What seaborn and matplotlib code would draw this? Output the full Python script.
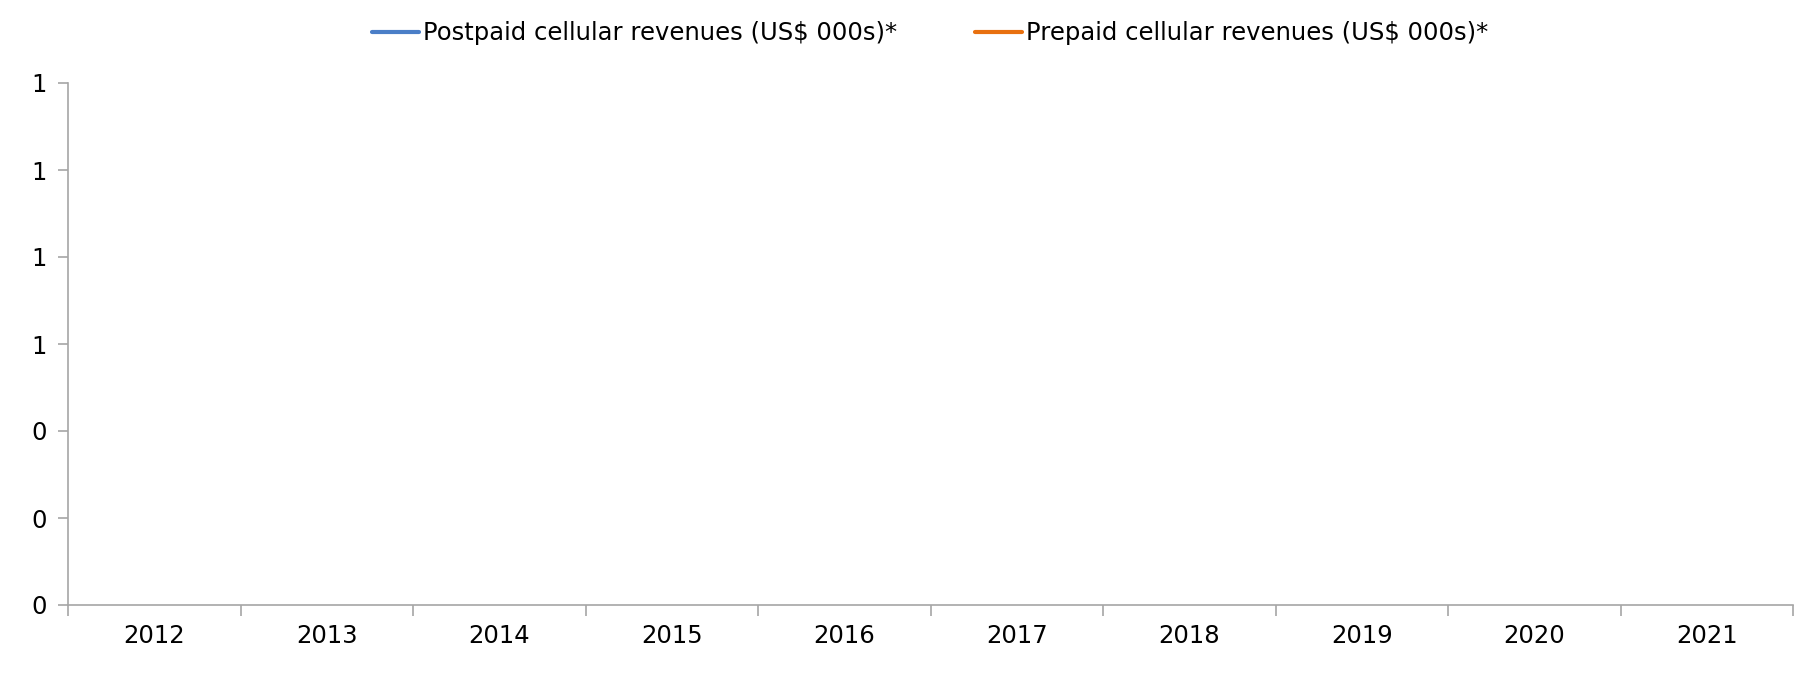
import numpy as np
import pandas as pd
import matplotlib
matplotlib.use("Agg")
import matplotlib.pyplot as plt
import seaborn as sns
from matplotlib.lines import Line2D
from matplotlib.ticker import FuncFormatter, FixedLocator

years = ["2012", "2013", "2014", "2015", "2016", "2017", "2018", "2019", "2020", "2021"]
postpaid = [np.nan] * 10
prepaid = [np.nan] * 10
series_names = ["Postpaid cellular revenues (US$ 000s)*", "Prepaid cellular revenues (US$ 000s)*"]
colors = ["#4A7EC7", "#E8700F"]
yticks = [0, 0.2, 0.4, 0.6, 0.8, 1.0, 1.2]

sns.set_theme(style="white")
plt.rcParams["font.family"] = ["DejaVu Sans"]
plt.rcParams["text.color"] = "black"
plt.rcParams["xtick.color"] = "black"
plt.rcParams["ytick.color"] = "black"

df = pd.DataFrame({
    "x": list(range(len(years))) * 2,
    "value": postpaid + prepaid,
    "series": [series_names[0]] * len(years) + [series_names[1]] * len(years),
})

fig = plt.figure(figsize=(17.96, 6.74), dpi=100)
ax = fig.add_axes([68 / 1796, 1 - 605 / 674, (1793 - 68) / 1796, (605 - 83) / 674])

for name, col in zip(series_names, colors):
    sub = df[df["series"] == name]
    sns.lineplot(x=sub["x"], y=sub["value"], ax=ax, color=col, linewidth=3, legend=False)

ax.set_xlim(-0.5, len(years) - 0.5)
ax.set_ylim(yticks[0], yticks[-1])
ax.set_yticks(yticks)
ax.yaxis.set_major_formatter(FuncFormatter(lambda v, p: f"{v:.0f}"))

ax.xaxis.set_major_locator(FixedLocator(np.arange(-0.5, len(years), 1.0)))
ax.xaxis.set_minor_locator(FixedLocator(np.arange(len(years))))
ax.set_xticklabels([], minor=False)
ax.set_xticklabels(years, minor=True)
ax.tick_params(axis="x", which="major", length=8, color="#A6A6A6", width=1.2, direction="out", bottom=True)
ax.tick_params(axis="x", which="minor", length=0, labelsize=17.5, pad=14, bottom=True, labelcolor="black")
ax.tick_params(axis="y", which="major", length=7, color="#A6A6A6", width=1.2, direction="out", left=True,
               labelsize=17.5, pad=8, labelcolor="black")
ax.set_xlabel("")
ax.set_ylabel("")

for s in ["top", "right"]:
    ax.spines[s].set_visible(False)
for s in ["left", "bottom"]:
    ax.spines[s].set_color("#A6A6A6")
    ax.spines[s].set_linewidth(1.2)

handles = [Line2D([0], [0], color=c, linewidth=3, solid_capstyle="round") for c in colors]
leg = ax.legend(handles, series_names, loc="center", bbox_to_anchor=(0.5, 1.095), ncol=2, frameon=False,
                fontsize=17.5, handlelength=1.9, handletextpad=0.2, columnspacing=3.2)
for t in leg.get_texts():
    t.set_color("black")

fig.savefig("out.png", dpi=100)
